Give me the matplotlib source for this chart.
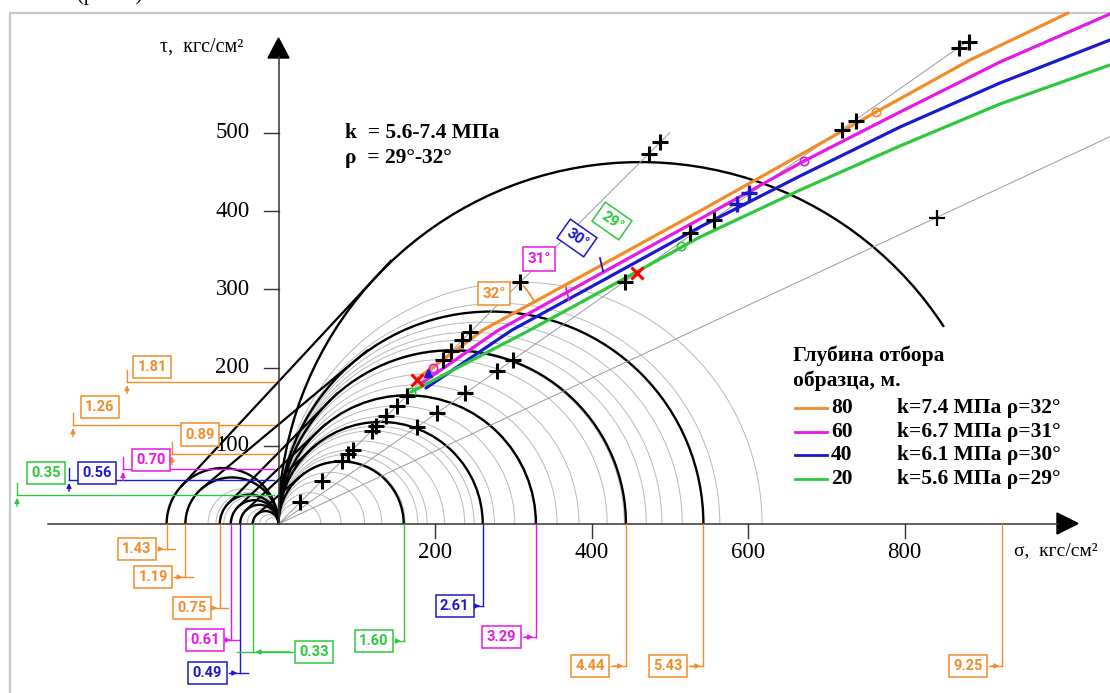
import numpy as np
import matplotlib.pyplot as plt
from matplotlib.patches import Arc, Polygon

ORANGE = '#f28c28'
MAGENTA = '#e619e6'
BLUE = '#1a1acc'
GREEN = '#2ec83c'
GRAY = '#b9b9b9'
RAY = '#9a9a9a'
SERIF = 'Liberation Serif'
BOXFONT = 'Roboto'

# ---- data, kgf/cm2 (labels are the same values in MPa, x100) ----
comp_d = [160, 261, 329, 444, 543, 925]
comp_lbl = ['1.60', '2.61', '3.29', '4.44', '5.43', '9.25']
comp_col = [GREEN, BLUE, MAGENTA, ORANGE, ORANGE, ORANGE]
tens_d = [143, 119, 75, 61, 49, 33]
tens_lbl = ['1.43', '1.19', '0.75', '0.61', '0.49', '0.33']
tens_col = [ORANGE, ORANGE, ORANGE, MAGENTA, BLUE, GREEN]
coh_v = [181, 126, 90, 70, 56, 37]
coh_lbl = ['1.81', '1.26', '0.89', '0.70', '0.56', '0.35']
coh_col = [ORANGE, ORANGE, ORANGE, MAGENTA, BLUE, GREEN]
pairs = [(143, 925), (119, 543), (75, 444), (61, 329), (49, 261), (33, 160)]

gray_comp_r = [27, 40, 55, 66, 81, 89, 95, 106, 119, 125, 138, 151, 164,
               178, 192, 210, 221, 235, 245, 258, 282, 309]
gray_tens_r = [8, 12, 16, 20, 25, 30, 35, 40, 45]

tops_r = [27.5, 55, 81, 89, 95, 119, 125, 138, 151, 164, 210, 221, 235,
          245, 309, 473, 488]
ray35_s = [176.6, 202.2, 238.3, 279.2, 299.7, 442.8, 526.5, 556.9, 720.6,
           738.5, 869.9, 881.9]
ray35_t = [124.3, 141.9, 167.4, 195.5, 209.6, 309.7, 371.5, 388.5, 503.5,
           515.4, 607.9, 616.4]
blue_s = [586.1, 601.8]
blue_t = [409.0, 422.6]
ray25_s = [842.0]
ray25_t = [390.7]

env80_s = [178.3, 261.3, 410.9, 538.7, 666.5, 763.6, 883.7, 1009.0]
env80_t = [186.6, 247.9, 329.7, 400.0, 471.6, 526.5, 593.0, 653.0]
env60_s = [183.4, 279.2, 410.9, 538.7, 671.6, 794.2, 922.0, 1062.6]
env60_t = [180.2, 246.6, 319.5, 389.8, 463.9, 526.5, 590.4, 651.8]
env40_s = [188.5, 298.4, 410.9, 538.7, 666.5, 794.2, 922.0, 1062.6]
env40_t = [173.8, 247.9, 309.3, 379.6, 444.7, 507.3, 563.6, 618.5]
env20_s = [169.3, 321.4, 410.9, 538.7, 666.5, 794.2, 922.0, 1062.6]
env20_t = [168.7, 247.9, 296.5, 366.8, 426.8, 483.1, 536.7, 586.6]

depths = [80, 60, 40, 20]
k_mpa = [7.4, 6.7, 6.1, 5.6]
rho = [32, 31, 30, 29]
env_col = [ORANGE, MAGENTA, BLUE, GREEN]

x_ticks = [200, 400, 600, 800]
y_ticks = [100, 200, 300, 400, 500]

# ---- layout helpers (pixel position -> data) ----
S = 0.7825
X0, Y0 = 278.5, 524.0


def P(x, y):
    return (x - X0) / S, (Y0 - y) / S


def L(px):
    return px / S


fig = plt.figure(figsize=(11.1, 6.93), dpi=100)
ax = fig.add_axes([0, 0, 1, 1])
ax.set_xlim(P(0, 0)[0], P(1110, 0)[0])
ax.set_ylim(P(0, 693)[1], P(0, 0)[1])
ax.axis('off')

# frame
fx, fy = zip(P(1110, 13), P(10, 13), P(10, 693))
ax.plot(fx, fy, color='#c8c8c8', lw=1.6)
fig.text(110 / 1110, 1.0, '(рис. 2)', ha='center', va='baseline',
         family=SERIF, fontsize=15)

# thin grey circles
for r in gray_comp_r:
    ax.add_patch(Arc((r, 0), 2 * r, 2 * r, theta1=0, theta2=180, color=GRAY, lw=0.7))
for r in gray_tens_r:
    ax.add_patch(Arc((-r, 0), 2 * r, 2 * r, theta1=0, theta2=180, color=GRAY, lw=0.7))

# rays from origin
ax.plot([0, 500], [0, 500], color=RAY, lw=0.7)
ax.plot([0, 885], [0, 620], color=RAY, lw=0.7)
ax.plot([0, P(1110, 0)[0]], [0, P(0, 136.7)[1]], color=RAY, lw=0.7)

# black circles
for d in comp_d:
    t1 = 33 if d > 900 else 0
    ax.add_patch(Arc((d / 2, 0), d, d, theta1=t1, theta2=180, color='black', lw=1.7))
for d in tens_d:
    ax.add_patch(Arc((-d / 2, 0), d, d, theta1=0, theta2=180, color='black', lw=1.7))

# common tangents between tension and compression circles
for t, c in pairs:
    rt, rc = t / 2, c / 2
    s = (rc - rt) / (rc + rt)
    co = np.sqrt(1 - s * s)
    p1 = np.array([-rt - rt * s, rt * co])
    p2 = np.array([rc - rc * s, rc * co])
    p2 = p2 + 0.08 * (p2 - p1)
    ax.plot([p1[0], p2[0]], [p1[1], p2[1]], color='black', lw=1.6)

# axes
ax.plot([P(48, 0)[0], P(1058, 0)[0]], [0, 0], color='#333333', lw=1.1)
ax.plot([0, 0], [0, P(0, 57)[1]], color='#333333', lw=1.1)
ax.add_patch(Polygon([P(278.5, 38), P(268, 58), P(289, 58)], closed=True, color='black'))
ax.add_patch(Polygon([P(1078, 523.5), P(1057, 513), P(1057, 534)], closed=True, color='black'))
for v in y_ticks:
    ax.plot([-L(15), 0], [v, v], color='#333333', lw=1)
    ax.text(-L(29), v, str(v), ha='right', va='center', family=SERIF, fontsize=16.5)
for v in x_ticks:
    ax.plot([v, v], [0, -L(14)], color='#333333', lw=1)
    ax.text(v, -L(29), str(v), ha='center', va='center', family=SERIF, fontsize=16.5)
ax.text(*P(160, 47), 'τ,  кгс/см²', ha='left', va='center', family=SERIF, fontsize=14.5)
ax.text(*P(1014, 551), 'σ,  кгс/см²', ha='left', va='center', family=SERIF, fontsize=14)

ax.text(*P(345, 133), 'k  = 5.6-7.4 МПа', ha='left', va='center', family=SERIF,
        fontsize=15.5, fontweight='bold')
ax.text(*P(345, 158), 'ρ  = 29°-32°', ha='left', va='center', family=SERIF,
        fontsize=15.5, fontweight='bold')

# envelopes
envs = [(env80_s, env80_t), (env60_s, env60_t), (env40_s, env40_t), (env20_s, env20_t)]
for (xs, ys), c in zip(envs, env_col):
    ax.plot(xs, ys, color=c, lw=2.3, solid_capstyle='round', zorder=4)

ax.plot([763.6], [526.5], 'o', mfc='none', mec=ORANGE, ms=6, mew=1.2, zorder=5)
ax.plot([671.6], [463.9], 'o', mfc='none', mec=MAGENTA, ms=6, mew=1.2, zorder=5)
ax.plot([514, 169.3], [355, 168.7], 'o', mfc='none', mec=GREEN, ms=6, mew=1.2, zorder=5)
ax.plot([197.4], [199.4], 'o', mfc='none', mec=MAGENTA, ms=6, mew=1.2, zorder=5)
ax.plot([191], [193], '^', color=BLUE, ms=6, zorder=5)
ax.plot([176.6, 457.8], [184, 320.8], 'x', color='red', ms=8, mew=2.2, zorder=6)

# markers
ax.plot(tops_r, tops_r, '+', color='black', ms=11, mew=2.2, zorder=6)
ax.plot(ray35_s, ray35_t, '+', color='black', ms=11, mew=2.2, zorder=6)
ax.plot(blue_s, blue_t, '+', color=BLUE, ms=11, mew=2.4, zorder=6)
ax.plot(ray25_s, ray25_t, '+', color='black', ms=11, mew=1.6, zorder=6)

# angle marks
ax.add_patch(Arc((232, 232), 217, 217, theta1=29, theta2=42, color=ORANGE, lw=1.3, zorder=5))
ax.plot(*zip(P(600, 258), P(603, 271)), color=BLUE, lw=1.3, zorder=5)
ax.plot(*zip(P(566, 288), P(569, 300)), color=MAGENTA, lw=1.3, zorder=5)


def box(x, y, s, c, rot=0, size=11):
    ax.text(x, y, s, ha='center', va='center', color=c, family=BOXFONT,
            fontsize=size, fontweight='bold', rotation=rot, zorder=8,
            bbox=dict(boxstyle='square,pad=0.3', fc='white', ec=c, lw=1.1))


box(*P(494, 293.5), '32°', ORANGE)
box(*P(539, 259), '31°', MAGENTA)
box(*P(577, 238), '30°', BLUE, rot=-35)
box(*P(612, 221), '29°', GREEN, rot=-35)

# cohesion marks (left)
left_lay = [(127, 152, 367), (73, 100, 407), (172, 200, 434.5),
            (123, 151, 460), (69, 97, 473), (17, 46, 473)]
for v, s, c, (ax_px, bx, by) in zip(coh_v, coh_lbl, coh_col, left_lay):
    xa = P(ax_px, 0)[0]
    ax.plot([xa, -L(5)], [v, v], color=c, lw=1)
    ax.plot([xa, xa], [v, v + L(12)], color=c, lw=1)
    ax.annotate('', xy=(xa, v), xytext=(xa, v - L(14)),
                arrowprops=dict(arrowstyle='-|>', color=c, lw=1, mutation_scale=7))
    box(*P(bx, by), s, c, size=10.5)

# strength marks (bottom)
tens_lay = [(549, 137), (577, 153), (608, 191.7), (640, 204.7), (673, 207.5), (652, 314)]
comp_lay = [(641, 374), (606, 454.7), (637, 501.5), (666, 590), (666, 668), (666, 968)]
items = list(zip([-d for d in tens_d], tens_lbl, tens_col, tens_lay)) + \
    list(zip(comp_d, comp_lbl, comp_col, comp_lay))
for xv, s, c, (ypx, bx) in items:
    yv = P(0, ypx)[1]
    ax.plot([xv, xv], [0, yv], color=c, lw=1)
    bxd = P(bx, 0)[0]
    if bxd < xv:
        start = bxd + L(21)
        tail = xv + L(8) if xv < 0 else xv
    else:
        start = bxd - L(21)
        tail = xv - L(16)
    ax.plot([start, tail], [yv, yv], color=c, lw=1)
    ax.annotate('', xy=(xv, yv), xytext=(start, yv),
                arrowprops=dict(arrowstyle='-|>', color=c, lw=1, mutation_scale=7))
    box(bxd, yv, s, c, size=10.5)

# legend
ax.text(*P(793, 356), 'Глубина отбора', ha='left', va='center', family=SERIF,
        fontsize=15.5, fontweight='bold')
ax.text(*P(793, 381), 'образца, м.', ha='left', va='center', family=SERIF,
        fontsize=15.5, fontweight='bold')
for i, (dp, k, r, c) in enumerate(zip(depths, k_mpa, rho, env_col)):
    ypx = 408 + i * 23.7
    ax.plot(*zip(P(795, ypx), P(827, ypx)), color=c, lw=2)
    ax.text(*P(831, ypx), str(dp), ha='left', va='center', family=SERIF,
            fontsize=15.5, fontweight='bold')
    ax.text(*P(897, ypx), f'k={k} МПа ρ={r}°', ha='left', va='center',
            family=SERIF, fontsize=15.5, fontweight='bold')

fig.savefig('out.png', dpi=100)
